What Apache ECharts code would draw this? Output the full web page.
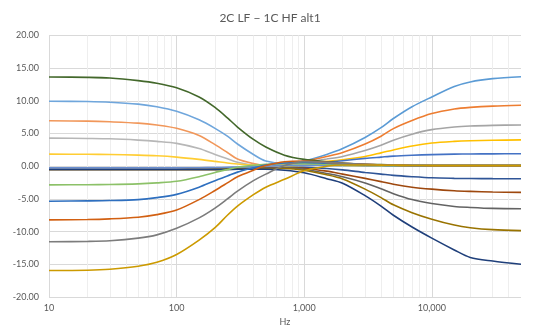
<!DOCTYPE html>
<html>
<head>
<meta charset="utf-8">
<script src="https://cdn.jsdelivr.net/npm/echarts@6/dist/echarts.min.js"></script>
<style>
html,body{margin:0;padding:0;background:#fff;}
#chart{width:540px;height:336px;}
</style>
</head>
<body>
<div id="chart"></div>
<script>
// Frequencies (Hz)
const freqs = [10,20,30,50,70,100,150,200,250,300,400,500,700,1000,1500,2000,3000,4000,5000,7000,10000,15000,20000,30000,50000];

// HF-shelf series (flat near -0.4 at LF)
const hfPlus137 = [-0.4,-0.4,-0.4,-0.4,-0.4,-0.4,-0.4,-0.4,-0.38,-0.35,-0.25,-0.15,0.2,0.8,1.8,2.7,4.4,5.9,7.3,9.1,10.6,12.2,12.9,13.4,13.7];
const hfPlus93  = [-0.42,-0.42,-0.42,-0.42,-0.42,-0.42,-0.42,-0.42,-0.4,-0.37,-0.27,-0.15,0.2,0.75,1.5,2.1,3.4,4.6,5.76,7.0,8.06,8.75,9.0,9.2,9.33];
const hfPlus64  = [-0.4,-0.4,-0.4,-0.4,-0.4,-0.4,-0.4,-0.4,-0.38,-0.36,-0.26,-0.15,0.15,0.6,1.1,1.5,2.4,3.2,3.98,4.9,5.6,6.0,6.15,6.25,6.32];
const hfPlus40  = [-0.42,-0.42,-0.42,-0.42,-0.42,-0.42,-0.42,-0.42,-0.4,-0.37,-0.27,-0.15,0.1,0.45,0.75,1.0,1.5,2.05,2.5,3.1,3.55,3.8,3.9,3.97,4.03];
const hfPlus19  = [-0.45,-0.45,-0.45,-0.45,-0.45,-0.45,-0.45,-0.45,-0.42,-0.38,-0.3,-0.2,0.0,0.3,0.6,0.85,1.2,1.4,1.55,1.68,1.78,1.85,1.88,1.9,1.92];
const hfZero    = [-0.45,-0.45,-0.45,-0.45,-0.45,-0.45,-0.45,-0.45,-0.42,-0.38,-0.3,-0.2,0.0,0.15,0.15,0.12,0.1,0.09,0.08,0.06,0.05,0.05,0.05,0.05,0.05];
const hfMinus19 = [-0.47,-0.47,-0.47,-0.47,-0.47,-0.47,-0.47,-0.47,-0.45,-0.42,-0.36,-0.3,-0.15,-0.15,-0.35,-0.55,-0.95,-1.2,-1.4,-1.6,-1.77,-1.85,-1.88,-1.9,-1.92];
const hfMinus39 = [-0.48,-0.48,-0.48,-0.48,-0.48,-0.48,-0.48,-0.48,-0.45,-0.42,-0.36,-0.3,-0.2,-0.3,-0.75,-1.2,-1.85,-2.35,-2.75,-3.2,-3.5,-3.75,-3.85,-3.95,-4.0];
const hfMinus65 = [-0.5,-0.5,-0.5,-0.5,-0.5,-0.5,-0.5,-0.5,-0.47,-0.44,-0.4,-0.35,-0.25,-0.45,-1.1,-1.6,-2.55,-3.45,-4.2,-5.1,-5.7,-6.15,-6.3,-6.45,-6.5];
const hfMinus98 = [-0.5,-0.5,-0.5,-0.5,-0.5,-0.5,-0.5,-0.5,-0.48,-0.45,-0.42,-0.4,-0.35,-0.6,-1.3,-1.95,-3.5,-4.8,-5.9,-7.1,-8.1,-9.0,-9.4,-9.7,-9.84];
const hfMinus149= [-0.5,-0.5,-0.5,-0.5,-0.5,-0.5,-0.5,-0.5,-0.49,-0.47,-0.46,-0.45,-0.6,-1.0,-1.9,-2.6,-4.5,-6.1,-7.5,-9.3,-11.0,-12.8,-13.95,-14.5,-15.0];

// LF-shelf series (flat near +0.1 at HF)
const lfPlus137 = [13.65,13.6,13.5,13.1,12.7,12.0,10.6,9.0,7.4,6.0,4.1,2.95,1.7,1.05,0.7,0.5,0.3,0.25,0.2,0.15,0.12,0.1,0.1,0.1,0.1];
const lfPlus100 = [9.95,9.9,9.8,9.5,9.1,8.4,7.1,5.8,4.6,3.4,1.8,0.8,0.45,0.55,0.45,0.35,0.25,0.2,0.15,0.12,0.1,0.1,0.1,0.1,0.1];
const lfPlus70  = [6.95,6.9,6.8,6.6,6.3,5.8,4.7,3.3,2.1,1.1,0.4,0.1,0.25,0.4,0.35,0.3,0.2,0.15,0.12,0.1,0.1,0.1,0.1,0.1,0.1];
const lfPlus43  = [4.3,4.25,4.2,4.0,3.8,3.5,2.7,1.8,1.15,0.6,0.15,0.0,0.15,0.3,0.3,0.25,0.15,0.12,0.1,0.1,0.1,0.1,0.1,0.1,0.1];
const lfPlus19  = [1.85,1.83,1.8,1.7,1.6,1.4,1.05,0.75,0.5,0.35,0.15,0.05,0.05,0.15,0.2,0.15,0.1,0.1,0.1,0.1,0.1,0.1,0.1,0.1,0.1];
const lfZero    = [-0.25,-0.25,-0.25,-0.25,-0.25,-0.25,-0.22,-0.2,-0.16,-0.12,-0.06,0.0,0.1,0.15,0.15,0.12,0.1,0.1,0.1,0.1,0.1,0.1,0.1,0.1,0.1];
const lfMinus28 = [-2.85,-2.82,-2.8,-2.7,-2.55,-2.3,-1.6,-0.95,-0.5,-0.15,0.15,0.3,0.4,0.4,0.3,0.25,0.15,0.12,0.1,0.1,0.1,0.1,0.1,0.1,0.1];
const lfMinus53 = [-5.35,-5.3,-5.25,-5.1,-4.8,-4.3,-3.2,-2.2,-1.5,-0.9,-0.25,0.2,0.5,0.6,0.45,0.35,0.2,0.15,0.12,0.1,0.1,0.1,0.1,0.1,0.1];
const lfMinus82 = [-8.2,-8.15,-8.05,-7.8,-7.4,-6.7,-5.1,-3.7,-2.55,-1.6,-0.6,0.1,0.7,0.8,0.6,0.45,0.3,0.2,0.15,0.12,0.1,0.1,0.1,0.1,0.1];
const lfMinus115= [-11.55,-11.5,-11.4,-11.0,-10.5,-9.5,-7.9,-6.4,-5.0,-3.8,-2.2,-1.2,0.1,0.7,0.6,0.45,0.3,0.2,0.15,0.12,0.1,0.1,0.1,0.1,0.1];
const lfMinus159= [-15.95,-15.9,-15.75,-15.3,-14.7,-13.5,-11.3,-9.4,-7.5,-6.1,-4.35,-3.2,-2.0,-0.7,0.0,0.2,0.2,0.17,0.15,0.12,0.1,0.1,0.1,0.1,0.1];

const seriesList = [hfPlus137,hfPlus93,hfPlus64,hfPlus40,hfPlus19,hfZero,hfMinus19,hfMinus39,hfMinus65,hfMinus98,hfMinus149,
                    lfPlus137,lfPlus100,lfPlus70,lfPlus43,lfPlus19,lfZero,lfMinus28,lfMinus53,lfMinus82,lfMinus115,lfMinus159];
const seriesColors = ['#5B9BD5','#ED7D31','#A5A5A5','#FFC000','#4472C4','#70AD47','#2F5597','#9E480E','#636363','#997300','#1F3F7A',
                      '#43682B','#6FA6DC','#F1975A','#B7B7B7','#FFCD33','#698ED0','#8CC168','#2E6FBF','#D26012','#7C7C7C','#CC9A00'];

// Tick values
const yTicks = [-20,-15,-10,-5,0,5,10,15,20];
const xDecades = [10,100,1000,10000];
const xMax = 50000;

const minorLines = [];
xDecades.forEach(d => { for (let k = 2; k <= 9; k++) { if (d*k < xMax) minorLines.push({xAxis: d*k}); } });
const majorLines = xDecades.map(d => ({xAxis: d}));

const series = [];
series.push({
  type:'line', data:[[freqs[0], 0]], symbol:'none', lineStyle:{opacity:0}, z:0, silent:true,
  markLine:{silent:true, symbol:'none', label:{show:false}, animation:false, z:1,
    data:[
      ...minorLines.map(m => ({...m, lineStyle:{color:'#eeeeee', width:1, type:'solid'}})),
      ...majorLines.map(m => ({...m, lineStyle:{color:'#d9d9d9', width:1, type:'solid'}}))
    ]}
});
seriesList.forEach((vals, i) => {
  series.push({
    type:'line', data: freqs.map((f, j) => [f, vals[j]]), smooth:0.3, symbol:'none',
    lineStyle:{width:1.6, color:seriesColors[i]}, itemStyle:{color:seriesColors[i]}, z:3+i, animation:false
  });
});

const chart = echarts.init(document.getElementById('chart'));
chart.setOption({
  animation:false,
  backgroundColor:'#ffffff',
  title:{text:'2C LF \u2212 1C HF alt1', left:'center', top:7,
    textStyle:{fontFamily:'Lato', fontSize:12, fontWeight:'normal', color:'#595959'}},
  grid:{left:49, right:19, top:35.5, bottom:39, containLabel:false, outerBoundsMode:'none'},
  xAxis:{type:'log', logBase:10, min:10, max:xMax, name:'Hz', nameLocation:'middle', nameGap:18,
    nameTextStyle:{fontFamily:'Lato', fontSize:9, color:'#595959'},
    axisLine:{show:false}, axisTick:{show:false}, splitLine:{show:false},
    axisLabel:{fontFamily:'Lato', fontSize:9, color:'#595959', margin:7, showMaxLabel:false,
      formatter: v => (xDecades.indexOf(Math.round(v)) >= 0 ? Math.round(v).toLocaleString('en-US') : '')}},
  yAxis:{type:'value', min:yTicks[0], max:yTicks[yTicks.length-1], interval:5, name:'dB', nameLocation:'middle', nameGap:37,
    nameTextStyle:{fontFamily:'Lato', fontSize:9, color:'#595959'},
    axisLine:{show:false}, axisTick:{show:false},
    splitLine:{show:true, lineStyle:{color:'#d9d9d9', width:1}},
    axisLabel:{fontFamily:'Lato', fontSize:9, color:'#595959', margin:10, formatter: v => v.toFixed(2)}},
  series: series
});
</script>
</body>
</html>
